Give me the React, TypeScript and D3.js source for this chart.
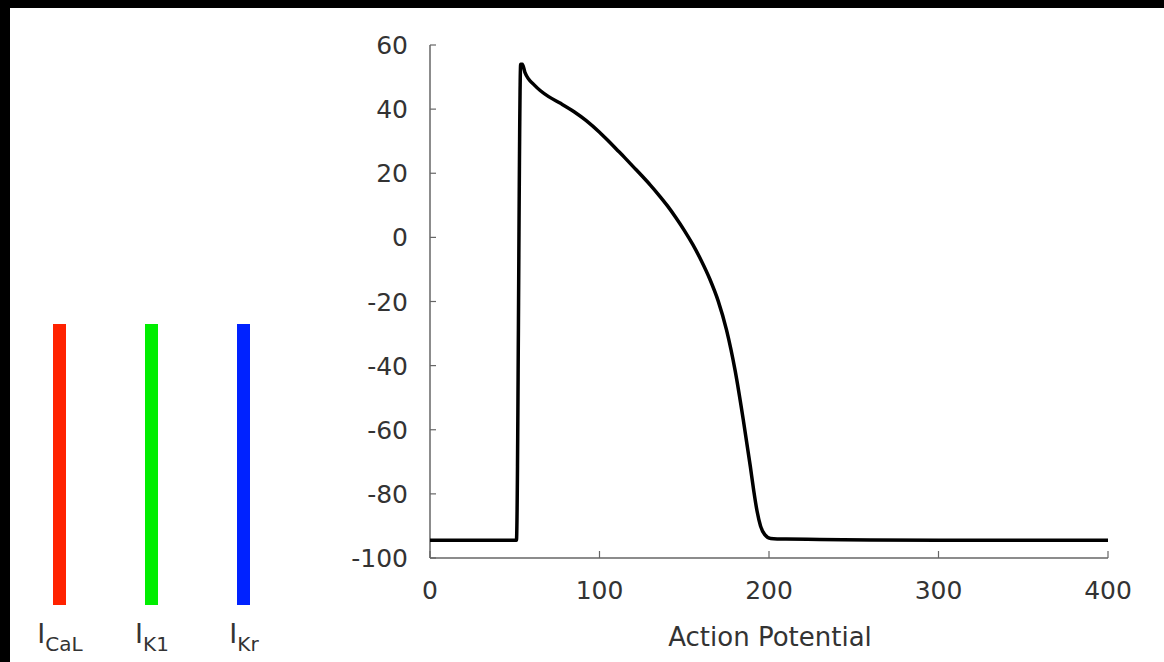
import React from "react";
import * as d3 from "d3";

const timeMs = [0, 51, 53.5, 54.5, 56, 58, 61, 65, 70, 77, 85, 92, 100, 105, 110, 115, 120, 125, 130, 135, 140, 145, 150, 155, 160, 165, 170, 175, 180, 185, 189, 191, 193, 195, 197.5, 201, 210, 230, 260, 300, 400];
const voltage = [-94.5, -94.5, 54, 54, 51.5, 49.5, 47.8, 45.8, 43.9, 41.8, 39.2, 36.5, 32.8, 30.2, 27.5, 24.8, 22, 19.2, 16.3, 13.2, 9.9, 6.2, 2.2, -2.2, -7.2, -12.9, -19.8, -29, -41.5, -57.5, -71.5, -79, -85.5, -90, -92.7, -93.9, -94.1, -94.2, -94.4, -94.5, -94.5];
const xTicks = [0, 100, 200, 300, 400];
const yTicks = [-100, -80, -60, -40, -20, 0, 20, 40, 60];
const xLabel = "Action Potential";
const currents = [
  { main: "I", sub: "CaL", color: "#ff2200" },
  { main: "I", sub: "K1", color: "#00ee00" },
  { main: "I", sub: "Kr", color: "#0022ff" },
];

export default function App() {
  const W = 1164, H = 662;
  const x = d3.scaleLinear().domain([0, 400]).range([430, 1108]);
  const y = d3.scaleLinear().domain([-100, 60]).range([558, 45]);
  const pts: [number, number][] = timeMs.map((t, i) => [t, voltage[i]]);
  const line = d3.line<[number, number]>().x(d => x(d[0])).y(d => y(d[1])).curve(d3.curveMonotoneX);
  const legendX = d3.scalePoint<string>().domain(currents.map(c => c.sub)).range([60, 244]);
  const font = "'DejaVu Sans', sans-serif";
  const axisColor = "#666";
  const textColor = "#333";
  return (
    <svg width={W} height={H} style={{ position: "absolute", left: 0, top: 0, background: "#fff" }} fontFamily={font}>
      <rect x={0} y={0} width={W} height={8} fill="#000" />
      <rect x={0} y={0} width={10} height={H} fill="#000" />
      {/* axes */}
      <line x1={x(0)} x2={x(0)} y1={y(60)} y2={y(-100)} stroke={axisColor} strokeWidth={1.5} />
      <line x1={x(0)} x2={x(400)} y1={y(-100)} y2={y(-100)} stroke={axisColor} strokeWidth={1.5} />
      {yTicks.map(v => (
        <g key={"y" + v}>
          <line x1={x(0)} x2={x(0) + 6} y1={y(v)} y2={y(v)} stroke={axisColor} strokeWidth={1.2} />
          <text x={408} y={y(v)} dy="0.36em" textAnchor="end" fontSize={25} fill={textColor}>{v}</text>
        </g>
      ))}
      {xTicks.map(v => (
        <g key={"x" + v}>
          <line x1={x(v)} x2={x(v)} y1={y(-100)} y2={y(-100) - 7} stroke={axisColor} strokeWidth={1.2} />
          <text x={x(v)} y={599} textAnchor="middle" fontSize={25} fill={textColor}>{v}</text>
        </g>
      ))}
      <text x={770} y={646} textAnchor="middle" fontSize={26} fill={textColor}>{xLabel}</text>
      <path d={line(pts) || ""} fill="none" stroke="#000" strokeWidth={3.5} strokeLinejoin="round" />
      {/* current bars */}
      {currents.map(c => {
        const cx = legendX(c.sub) as number;
        return (
          <g key={c.sub}>
            <rect x={cx - 7} y={324} width={13} height={281} fill={c.color} />
            <text x={cx} y={643} textAnchor="middle" fill={textColor}>
              <tspan fontSize={27}>{c.main}</tspan>
              <tspan fontSize={20} dy={8}>{c.sub}</tspan>
            </text>
          </g>
        );
      })}
    </svg>
  );
}
